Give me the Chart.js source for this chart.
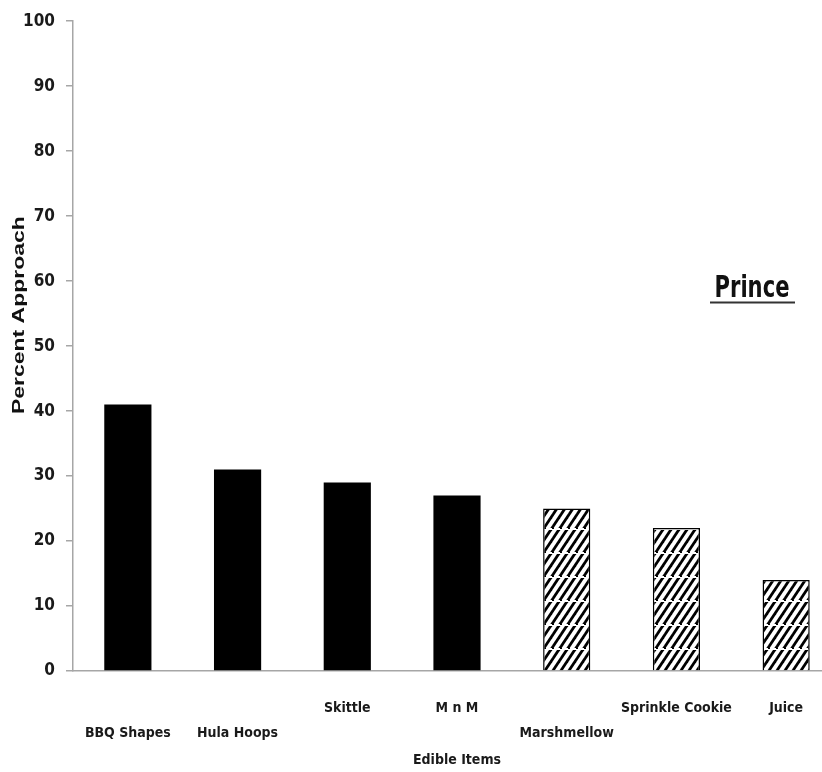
<!DOCTYPE html>
<html><head><meta charset="utf-8">
<script src="https://cdn.jsdelivr.net/npm/chart.js@4/dist/chart.umd.min.js"></script>
<style>html,body{margin:0;padding:0;background:#fff;overflow:hidden;width:822px;height:772px}
#wrap{width:850px;height:772px;position:relative}</style>
</head><body><div id="wrap"><canvas id="c" width="850" height="772"></canvas></div>
<script>
// ---- data ----
const categories = ["BBQ Shapes", "Hula Hoops", "Skittle", "M n M", "Marshmellow", "Sprinkle Cookie", "Juice"];
const labelRow = [1, 1, 0, 0, 1, 0, 0]; // 0 = upper row, 1 = lower row
const percentApproach = [41, 31, 29, 27, 25, 22, 14];
const hatched = [false, false, false, false, true, true, true];
const yMin = 0, yMax = 100, yStep = 10;
const chartTitle = "Prince";
const xTitle = "Edible Items";
const yTitle = "Percent Approach";

const NARROW = '"Liberation Sans Narrow", "DejaVu Sans Condensed", "Arial Narrow", sans-serif';

function makeHatch() {
  const t = document.createElement('canvas'); t.width = 8; t.height = 24;
  const g = t.getContext('2d');
  g.fillStyle = '#fff'; g.fillRect(0, 0, 8, 24);
  g.strokeStyle = '#000'; g.lineWidth = 2.8;
  for (let c = -24; c <= 60; c += 12) { g.beginPath(); g.moveTo(-4, c + 6); g.lineTo(12, c - 18); g.stroke(); }
  g.fillStyle = '#fff'; g.fillRect(0, 0, 8, 2);
  g.fillStyle = '#000'; g.fillRect(0, 0, 2, 1);
  return g.createPattern(t, 'repeat');
}
const ctx = document.getElementById('c').getContext('2d');
const hatch = makeHatch();

const tickLabels = categories.map((c, i) => labelRow[i] ? ["", c] : [c]);

const overlay = {
  id: 'overlay',
  afterDraw(chart) {
    const c = chart.ctx, a = chart.chartArea;
    c.save();
    // y-axis title (rotated)
    c.fillStyle = '#111';
    c.font = 'bold 16px "Liberation Sans", Arial, sans-serif';
    c.textAlign = 'center'; c.textBaseline = 'middle';
    const w = c.measureText(yTitle).width;
    c.translate(20, (a.top + a.bottom) / 2 - 31);
    c.rotate(-Math.PI / 2);
    c.scale(198 / w, 1);
    c.fillText(yTitle, 0, 0);
    c.restore();
    // chart title "Prince" underlined
    c.save();
    c.fillStyle = '#111';
    c.font = 'bold 31px ' + NARROW;
    c.textAlign = 'center'; c.textBaseline = 'alphabetic';
    const tw = c.measureText(chartTitle).width;
    const cx = 752, by = 297;
    c.translate(cx, by); c.scale(75 / tw, 1);
    c.fillText(chartTitle, 0, 0);
    c.restore();
    c.save();
    c.strokeStyle = '#333'; c.lineWidth = 2;
    c.beginPath(); c.moveTo(710, 302.5); c.lineTo(795, 302.5); c.stroke();
    c.restore();
  }
};

new Chart(ctx, {
  type: 'bar',
  data: {
    labels: tickLabels,
    datasets: [{
      data: percentApproach,
      backgroundColor: hatched.map(h => h ? hatch : '#000'),
      borderColor: '#000',
      borderWidth: hatched.map(h => h ? 1.5 : 0),
      categoryPercentage: 1,
      barPercentage: 0.43
    }]
  },
  options: {
    responsive: false,
    animation: false,
    devicePixelRatio: 1,
    layout: { padding: { top: 20, right: 9, left: 0, bottom: 0 } },
    plugins: { legend: { display: false }, tooltip: { enabled: false } },
    scales: {
      x: {
        type: 'category',
        offset: true,
        grid: { display: false },
        border: { display: true, color: '#a6a6a6', width: 1.5 },
        ticks: {
          color: '#1a1a1a', padding: 16.5, maxRotation: 0, autoSkip: false,
          font: { family: NARROW, size: 14, weight: 'bold', lineHeight: '25px' }
        },
        title: {
          display: true, text: xTitle, color: '#1a1a1a',
          font: { family: NARROW, size: 14, weight: 'bold' },
          padding: { top: 14, bottom: 3 }
        },
        afterFit(s) { s.height = 101; }
      },
      y: {
        min: yMin, max: yMax,
        ticks: {
          stepSize: yStep, color: '#1a1a1a', padding: 11,
          font: { family: NARROW, size: 17, weight: 'bold' }
        },
        grid: { drawOnChartArea: false, drawTicks: true, tickLength: 7, color: '#a6a6a6', lineWidth: 1.5 },
        border: { display: true, color: '#a6a6a6', width: 1.5 },
        afterFit(s) { s.width = 73; }
      }
    }
  },
  plugins: [overlay]
});
</script></body></html>
